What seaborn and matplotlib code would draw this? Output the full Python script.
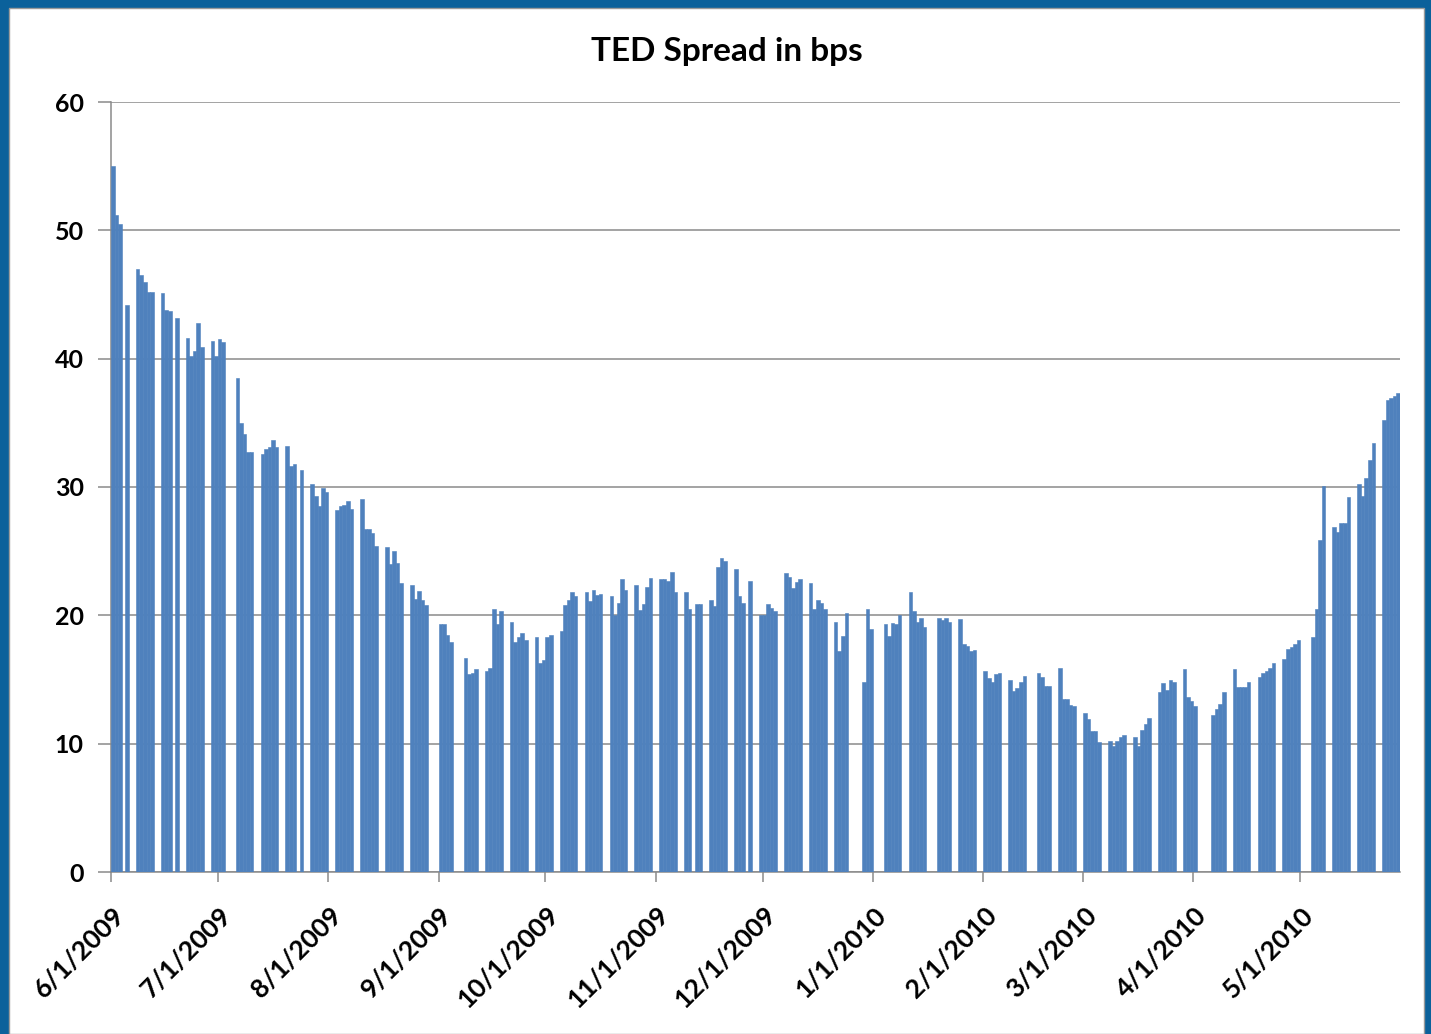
import numpy as np
import pandas as pd
import matplotlib
matplotlib.use("Agg")
import matplotlib.pyplot as plt
import matplotlib.transforms as mtransforms
from matplotlib.patches import Rectangle
import seaborn as sns

nan = np.nan

# Daily TED spread (bps), one entry per business day; nan = no fixing that day
jun_2009 = [55.0, 51.2, 50.5, nan, 44.2,
            47.0, 46.5, 46.0, 45.2, 45.2,
            45.1, 43.8, 43.7, nan, 43.2,
            41.6, 40.2, 40.6, 42.8, 40.9,
            41.4, 40.2]
jul_2009 = [41.5, 41.3, nan,
            38.5, 35.0, 34.1, 32.7, 32.7,
            32.6, 33.0, 33.1, 33.7, 33.1,
            33.2, 31.6, 31.8, nan, 31.3,
            30.2, 29.3, 28.5, 29.9, 29.6]
aug_2009 = [28.2, 28.5, 28.6, 28.9, 28.3,
            29.1, 26.7, 26.7, 26.4, 25.4,
            25.3, 24.0, 25.0, 24.1, 22.5,
            22.4, 21.3, 21.9, 21.2, 20.8,
            nan]
sep_2009 = [19.3, 19.3, 18.5, 17.9,
            nan, 16.7, 15.4, 15.5, 15.8,
            15.7, 15.9, 20.5, 19.3, 20.3,
            19.5, 17.9, 18.3, 18.6, 18.1,
            18.3, 16.3, 16.5]
oct_2009 = [18.3, 18.5,
            18.8, 20.8, 21.2, 21.8, 21.5,
            21.8, 21.1, 22.0, 21.6, 21.7,
            21.5, 20.0, 21.0, 22.8, 22.0,
            22.4, 20.4, 20.9, 22.2, 22.9]
nov_2009 = [22.8, 22.8, 22.7, 23.4, 21.8,
            21.8, 20.5, nan, 20.9, 20.9,
            21.2, 20.7, 23.8, 24.5, 24.2,
            23.6, 21.5, 21.0, nan, 22.7,
            20.0]
dec_2009 = [20.0, 20.9, 20.6, 20.3,
            23.3, 23.0, 22.1, 22.6, 22.8,
            22.5, 20.5, 21.2, 21.0, 20.5,
            19.5, 17.2, 18.4, 20.2, nan,
            nan, 14.8, 20.5, 18.9]
jan_2010 = [nan,
            19.3, 18.4, 19.4, 19.3, 20.0,
            21.8, 20.3, 19.5, 19.8, 19.1,
            nan, 19.8, 19.6, 19.8, 19.5,
            19.7, 17.8, 17.6, 17.2, 17.3]
feb_2010 = [15.7, 15.1, 14.8, 15.4, 15.5,
            15.0, 14.1, 14.3, 14.8, 15.3,
            nan, 15.5, 15.2, 14.5, 14.5,
            15.9, 13.5, 13.5, 13.0, 12.9]
mar_2010 = [12.4, 11.9, 11.0, 11.0, 10.1,
            10.2, 9.8, 10.2, 10.5, 10.7,
            10.5, 9.8, 11.1, 11.5, 12.0,
            14.0, 14.7, 14.2, 15.0, 14.8,
            15.8, 13.6, 13.3]
apr_2010 = [12.9, nan,
            nan, 12.2, 12.7, 13.1, 14.0,
            15.8, 14.4, 14.4, 14.4, 14.8,
            15.2, 15.5, 15.7, 15.9, 16.3,
            16.6, 17.4, 17.5, 17.8, 18.1]
may_2010 = [nan, 18.3, 20.5, 25.9, 30.1,
            26.9, 26.5, 27.2, 27.2, 29.2,
            30.2, 29.3, 30.7, 32.1, 33.4,
            35.2, 36.8, 36.9, 37.1, 37.3]

first_day = "2009-06-01"
last_day = "2010-05-28"
month_labels = ["6/1/2009", "7/1/2009", "8/1/2009", "9/1/2009", "10/1/2009",
                "11/1/2009", "12/1/2009", "1/1/2010", "2/1/2010", "3/1/2010",
                "4/1/2010", "5/1/2010"]
title = "TED Spread in bps"

BAR = "#4F81BD"
GRID = "#8a8a8a"
FRAME = "#0b619b"

values = (jun_2009 + jul_2009 + aug_2009 + sep_2009 + oct_2009 + nov_2009 +
          dec_2009 + jan_2010 + feb_2010 + mar_2010 + apr_2010 + may_2010)
dates = pd.bdate_range(first_day, last_day)
start = pd.Timestamp(first_day)

df = pd.DataFrame({"date": dates, "bps": values})
# each day occupies a one-day slot on a continuous date axis
df["pos"] = (df["date"] - start).dt.days + 0.5
df = df.dropna()

sns.set_theme(style="white")
plt.rcParams["font.family"] = ["Lato", "DejaVu Sans"]

W, H = 1431, 1034
fig = plt.figure(figsize=(W / 100, H / 100), dpi=100)
fig.patch.set_facecolor(FRAME)
panel = Rectangle((9 / W, 0), (1424 - 9) / W, 1026 / H,
                  transform=fig.transFigure, facecolor="white",
                  edgecolor="#9a9a9a", linewidth=1.0, zorder=-10)
fig.patches.append(panel)

ax = fig.add_axes([111 / W, 1 - 872 / H, (1400 - 111) / W, (872 - 102) / H])
ax.set_zorder(5)
ax.set_facecolor("none")

sns.barplot(data=df, x="pos", y="bps", native_scale=True, width=1.0,
            color=BAR, saturation=1, errorbar=None, linewidth=0.4,
            edgecolor=BAR, ax=ax, zorder=3)

end_pos = (pd.Timestamp(last_day) - start).days + 1
ax.set_xlim(0, end_pos)
ax.set_ylim(0, 60)
ax.set_yticks(np.arange(0, 61, 10))
ax.set_yticklabels([str(v) for v in range(0, 61, 10)])

tick_pos = [(pd.to_datetime(lbl, format="%m/%d/%Y") - start).days for lbl in month_labels]
ax.set_xticks(tick_pos)
ax.set_xticklabels(month_labels)
ax.set_xlabel("")
ax.set_ylabel("")

ax.grid(axis="y", color=GRID, linewidth=1.1, zorder=0)
ax.grid(axis="x", visible=False)
ax.set_axisbelow(True)
for side in ("top", "right"):
    ax.spines[side].set_visible(False)
for side in ("left", "bottom"):
    ax.spines[side].set_color(GRID)
    ax.spines[side].set_linewidth(1.1)

ax.tick_params(axis="y", which="major", left=True, length=9.5, width=1.1,
               color=GRID, pad=10, labelsize=18, labelcolor="black")
ax.tick_params(axis="x", which="major", bottom=True, length=7, width=1.1,
               color=GRID, pad=15, labelsize=19, labelcolor="black")

for lbl in ax.get_yticklabels():
    lbl.set_fontweight("bold")
shift = mtransforms.ScaledTranslation(1 / 100, 0, fig.dpi_scale_trans)
for lbl in ax.get_xticklabels():
    lbl.set_fontweight("bold")
    lbl.set_rotation(45)
    lbl.set_ha("right")
    lbl.set_va("top")
    lbl.set_rotation_mode("anchor")
    lbl.set_transform(lbl.get_transform() + shift)

fig.text(727 / W, 1 - 51 / H, title, ha="center", va="center",
         fontsize=24, fontweight="bold", color="black")

fig.savefig("out.png", dpi=100, facecolor=fig.get_facecolor())
